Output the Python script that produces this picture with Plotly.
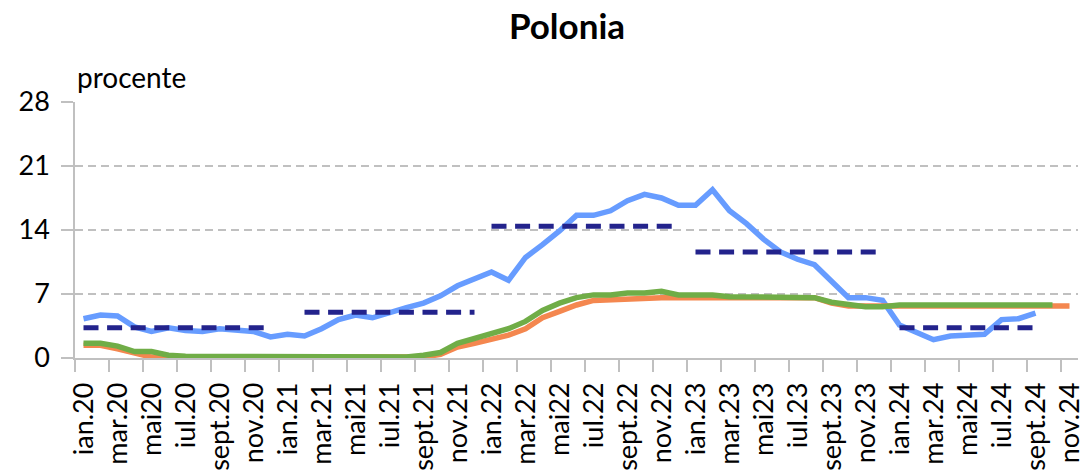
import plotly.graph_objects as go

# Monthly categories: ian.20 ... nov.24
MONTH_ABBR = ["ian.", "feb.", "mar.", "apr.", "mai", "iun.", "iul.", "aug.", "sept.", "oct.", "nov.", "dec."]
YEARS = ["20", "21", "22", "23", "24"]
months = [m + y for y in YEARS for m in MONTH_ABBR][:59]

tick_labels = [
    "ian.20", "mar.20", "mai20", "iul.20", "sept.20", "nov.20",
    "ian.21", "mar.21", "mai21", "iul.21", "sept.21", "nov.21",
    "ian.22", "mar.22", "mai22", "iul.22", "sept.22", "nov.22",
    "ian.23", "mar.23", "mai23", "iul.23", "sept.23", "nov.23",
    "ian.24", "mar.24", "mai24", "iul.24", "sept.24", "nov.24",
]

# Inflation, % (ian.20 - sept.24)
inflation = [
    4.3, 4.7, 4.6, 3.4, 2.9, 3.3, 3.0, 2.9, 3.2, 3.0, 2.9, 2.3,
    2.6, 2.4, 3.2, 4.2, 4.7, 4.4, 5.0, 5.5, 6.0, 6.8, 7.9, 8.7,
    9.4, 8.5, 11.0, 12.4, 13.9, 15.6, 15.6, 16.1, 17.2, 17.9, 17.5, 16.7,
    16.7, 18.4, 16.1, 14.7, 13.0, 11.6, 10.8, 10.2, 8.4, 6.6, 6.6, 6.3,
    3.6, 2.8, 2.0, 2.4, 2.5, 2.6, 4.2, 4.3, 4.9,
]

# Policy rate, % (ian.20 - nov.24)
policy_rate = [
    1.4, 1.4, 1.0, 0.5, 0.1, 0.1, 0.1, 0.1, 0.1, 0.1, 0.1, 0.1,
    0.1, 0.1, 0.1, 0.1, 0.1, 0.1, 0.1, 0.1, 0.1, 0.4, 1.2, 1.6,
    2.0, 2.5, 3.2, 4.4, 5.1, 5.8, 6.3, 6.4, 6.5, 6.6, 6.6, 6.6,
    6.6, 6.6, 6.6, 6.6, 6.6, 6.6, 6.6, 6.6, 6.0, 5.7, 5.7, 5.7,
    5.7, 5.7, 5.7, 5.7, 5.7, 5.7, 5.7, 5.7, 5.7, 5.7, 5.7,
]

# Market rate, % (ian.20 - oct.24)
market_rate = [
    1.6, 1.6, 1.3, 0.7, 0.7, 0.3, 0.2, 0.2, 0.2, 0.2, 0.2, 0.2,
    0.1, 0.1, 0.1, 0.1, 0.1, 0.1, 0.1, 0.1, 0.3, 0.6, 1.6, 2.1,
    2.6, 3.2, 4.0, 5.2, 6.0, 6.6, 6.9, 6.9, 7.1, 7.1, 7.3, 6.9,
    6.9, 6.9, 6.7, 6.7, 6.7, 6.7, 6.7, 6.6, 6.1, 5.8, 5.6, 5.6,
    5.8, 5.8, 5.8, 5.8, 5.8, 5.8, 5.8, 5.8, 5.8, 5.8,
]

# Annual average inflation and the months each average covers
annual_avg = [3.3, 5.0, 14.4, 11.6, 3.3]
annual_span = [("ian.20", "dec.20"), ("feb.21", "dec.21"), ("ian.22", "dec.22"),
               ("ian.23", "dec.23"), ("ian.24", "sept.24")]

BLUE = "#679CFF"
ORANGE = "#F4874F"
GREEN = "#70AD47"
NAVY = "#23238C"
GRID = "#C0C0C0"
FONT = "Lato"

idx = list(range(len(months)))

fig = go.Figure()
fig.add_trace(go.Scatter(x=idx[:len(inflation)], y=inflation, mode="lines",
                         line=dict(color=BLUE, width=5.5), showlegend=False))
fig.add_trace(go.Scatter(x=idx[:len(policy_rate)], y=policy_rate, mode="lines",
                         line=dict(color=ORANGE, width=5.5), showlegend=False))
fig.add_trace(go.Scatter(x=idx[:len(market_rate)], y=market_rate, mode="lines",
                         line=dict(color=GREEN, width=5.5), showlegend=False))
for avg, (start, end) in zip(annual_avg, annual_span):
    i0, i1 = months.index(start), months.index(end)
    fig.add_trace(go.Scatter(x=idx[i0:i1 + 1], y=[avg] * (i1 - i0 + 1), mode="lines",
                             line=dict(color=NAVY, width=5, dash="15px,8.6px"),
                             showlegend=False))

fig.update_layout(
    width=1091, height=475,
    margin=dict(l=75, r=13, t=102, b=117),
    paper_bgcolor="white", plot_bgcolor="white",
    font=dict(family=FONT, size=27, color="black"),
    title=dict(text="<b>Polonia</b>", x=567 / 1091, xanchor="center", xref="container",
               y=1 - 27 / 475, yanchor="middle", yref="container",
               font=dict(family=FONT, size=35, color="black"), automargin=False),
    annotations=[dict(text="procente", xref="paper", yref="paper", x=0.0, y=1.0,
                      xanchor="left", yanchor="bottom", yshift=6, showarrow=False,
                      font=dict(family=FONT, size=28, color="black"))],
)
fig.update_xaxes(
    automargin=False,
    range=[-0.5, len(months) - 0.5],
    tickmode="array",
    tickvals=[i - 0.5 for i in idx[::2]],
    ticktext=tick_labels,
    ticklabelshift=9,
    tickangle=-90,
    ticks="outside", ticklen=12, tickwidth=1.5, tickcolor=GRID,
    showline=True, linecolor=GRID, linewidth=1.5,
    showgrid=False, zeroline=False,
    tickfont=dict(family=FONT, size=27),
)
fig.update_yaxes(
    automargin=False,
    range=[0, 28], dtick=7, tick0=0,
    ticks="outside", ticklen=12, tickwidth=1.5, tickcolor=GRID,
    showline=True, linecolor=GRID, linewidth=1.5,
    showgrid=True, gridcolor=GRID, gridwidth=1.5, griddash="8px,5px",
    zeroline=False,
    ticklabelstandoff=6,
    tickfont=dict(family=FONT, size=27),
)

fig.write_html("out.html")
